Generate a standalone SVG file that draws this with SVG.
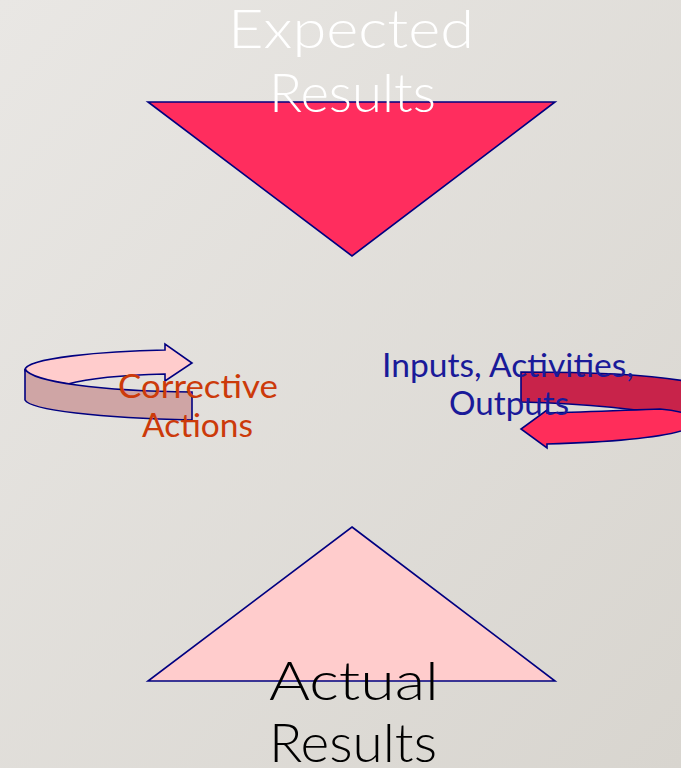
<svg xmlns="http://www.w3.org/2000/svg" width="681" height="768" viewBox="0 0 681 768">
<defs>
<linearGradient id="bg" x1="0" y1="0" x2="1" y2="1">
<stop offset="0" stop-color="#e9e7e4"/>
<stop offset="1" stop-color="#d8d5cf"/>
</linearGradient>
</defs>
<style>
.shape{stroke:#000080;stroke-width:1.6;stroke-linejoin:miter}
.big{font-family:Lato,"Open Sans",sans-serif;font-size:53px;font-weight:300}
.mid{font-family:Lato,"Open Sans",sans-serif;font-size:32px;font-weight:400}
</style>
<rect x="0" y="0" width="681" height="768" fill="url(#bg)"/>
<g id="expected">
<polygon class="shape" points="148,102 555,102 352,256" fill="#ff2d5e"/>
<text class="big" fill="#ffffff" x="228" y="48" textLength="246" lengthAdjust="spacingAndGlyphs">Expected</text>
<text class="big" fill="#ffffff" x="269" y="112" textLength="167" lengthAdjust="spacingAndGlyphs">Results</text>
</g>
<g id="actual">
<polygon class="shape" points="352,527 555,681 148,681" fill="#ffcccc"/>
<text class="big" fill="#000000" x="269" y="700" textLength="170" lengthAdjust="spacingAndGlyphs">Actual</text>
<text class="big" fill="#000000" x="269" y="762" textLength="168" lengthAdjust="spacingAndGlyphs">Results</text>
</g>
<g id="corrective">
<path class="shape" fill="#ffcccc" d="M25,370 C25,358 105,351 165,350 L165,344 L192,363 L165,381 L165,374 C125,375 90,378 68,384 C45,381 25,377 25,370 Z"/>
<path class="shape" fill="#cfa5a5" d="M25,369 C32,382 100,391 192,392 L192,420 C100,418 30,410 25,400 Z"/>
<text class="mid" fill="#cc3a0a" x="118" y="398" textLength="160" lengthAdjust="spacingAndGlyphs">Corrective</text>
<text class="mid" fill="#cc3a0a" x="142" y="437" textLength="111" lengthAdjust="spacingAndGlyphs">Actions</text>
</g>
<g id="process">
<path class="shape" fill="#c8234a" d="M521,372 C580,372 650,374 690,382 L690,420 C650,410 600,404 521,402 Z"/>
<path class="shape" fill="#ff2d5a" d="M547,410 L547,413 C590,412 630,410 660,409 C675,410 690,414 700,420 C695,432 650,441 547,444 L547,448 L521,429 Z"/>
<text class="mid" fill="#1a1a99" x="382" y="377" textLength="252" lengthAdjust="spacingAndGlyphs">Inputs, Activities,</text>
<text class="mid" fill="#1a1a99" x="449" y="415" textLength="120" lengthAdjust="spacingAndGlyphs">Outputs</text>
</g>
<g id="connectors"></g>
</svg>
